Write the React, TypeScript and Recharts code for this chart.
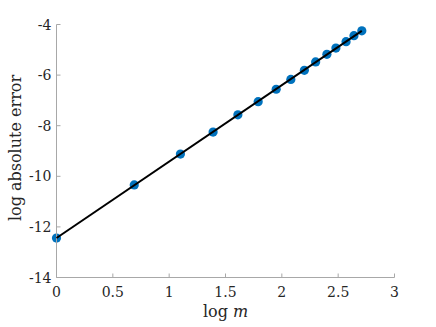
import { ComposedChart, XAxis, YAxis, Scatter, Line, Label } from "recharts";

// log m and log absolute error
const logM = [0, 0.69, 1.1, 1.39, 1.61, 1.79, 1.95, 2.08, 2.2, 2.3, 2.4, 2.48, 2.57, 2.64, 2.71];
const logErr = [-12.44, -10.34, -9.12, -8.25, -7.57, -7.05, -6.56, -6.17, -5.81, -5.48, -5.18, -4.93, -4.68, -4.44, -4.25];

// fitted line end points
const fitX = [0, 2.71];
const fitY = [-12.44, -4.25];

const xTicks = [0, 0.5, 1, 1.5, 2, 2.5, 3];
const yTicks = [-14, -12, -10, -8, -6, -4];

const points = logM.map((x, i) => ({ x, y: logErr[i] }));
const fit = fitX.map((x, i) => ({ x, y: fitY[i] }));

const FONT = "'DejaVu Serif', serif";
const AXIS = "#a8a8a8";
const TEXT = "#262626";

const XTick = (props: any) => {
  const { x, y, payload } = props;
  return (
    <g>
      <line x1={x} x2={x} y1={y} y2={y - 4} stroke={AXIS} strokeWidth={1} />
      <text x={x} y={y + 19} textAnchor="middle" fill={TEXT} fontSize={14} fontFamily={FONT}>
        {String(payload.value)}
      </text>
    </g>
  );
};

const YTick = (props: any) => {
  const { x, y, payload } = props;
  return (
    <g>
      <line x1={x} x2={x + 4} y1={y} y2={y} stroke={AXIS} strokeWidth={1} />
      <text x={x - 5} y={y} dy="0.36em" textAnchor="end" fill={TEXT} fontSize={14} fontFamily={FONT}>
        {String(payload.value)}
      </text>
    </g>
  );
};

export default function App() {
  return (
    <div style={{ position: "absolute", left: 0, top: 0, width: 436, height: 327, background: "#fff" }}>
      <ComposedChart
        width={436}
        height={327}
        margin={{ top: 24.5, right: 41.5, bottom: 0, left: 0.5 }}
      >
        <XAxis
          type="number"
          dataKey="x"
          domain={[0, 3]}
          ticks={xTicks}
          height={49.5}
          stroke={AXIS}
          tickLine={false}
          tickSize={0}
          tickMargin={0}
          tick={<XTick />}
        >
          <Label
            content={() => (
              <text x={225.5} y={317} textAnchor="middle" fill={TEXT} fontSize={16} fontFamily={FONT}>
                log <tspan fontStyle="italic">m</tspan>
              </text>
            )}
          />
        </XAxis>
        <YAxis
          type="number"
          dataKey="y"
          domain={[-14, -4]}
          ticks={yTicks}
          width={56}
          stroke={AXIS}
          tickLine={false}
          tickSize={0}
          tickMargin={0}
          tick={<YTick />}
        >
          <Label
            content={() => (
              <text
                transform="translate(21,148) rotate(-90)"
                textAnchor="middle"
                fill={TEXT}
                fontSize={16}
                fontFamily={FONT}
              >
                log absolute error
              </text>
            )}
          />
        </YAxis>
        <Scatter
          data={points}
          dataKey="y"
          isAnimationActive={false}
          zIndex={300}
          shape={(p: any) => <circle cx={p.cx} cy={p.cy} r={4.6} fill="#0072BD" />}
        />
        <Line
          data={fit}
          dataKey="y"
          type="linear"
          stroke="#000"
          strokeWidth={2}
          dot={false}
          activeDot={false}
          zIndex={700}
          isAnimationActive={false}
        />
      </ComposedChart>
    </div>
  );
}
